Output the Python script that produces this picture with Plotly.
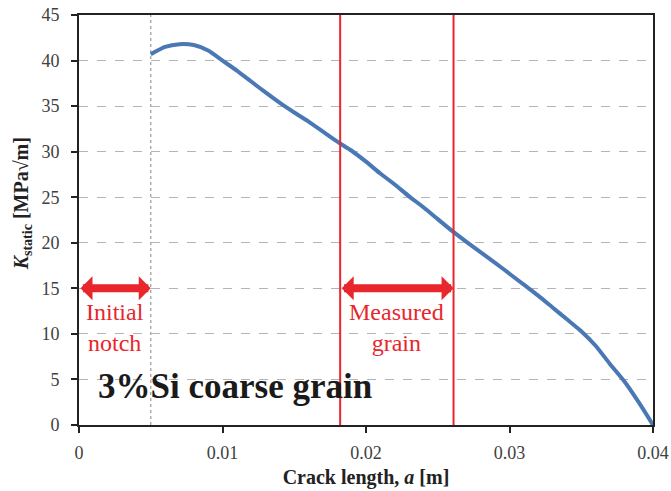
import plotly.graph_objects as go

# Data
crack_length = [0.005, 0.006, 0.007, 0.008, 0.009, 0.010, 0.011, 0.012, 0.013, 0.014,
                0.015, 0.016, 0.017, 0.018, 0.019, 0.020, 0.021, 0.022, 0.023, 0.024,
                0.025, 0.026, 0.027, 0.028, 0.029, 0.030, 0.031, 0.032, 0.033, 0.034,
                0.035, 0.036, 0.037, 0.038, 0.039, 0.040]
k_static = [40.7, 41.5, 41.8, 41.7, 41.1, 40.0, 38.9, 37.7, 36.5, 35.35,
            34.3, 33.3, 32.2, 31.1, 30.1, 28.9, 27.6, 26.4, 25.1, 23.9,
            22.6, 21.3, 20.1, 18.95, 17.8, 16.6, 15.4, 14.2, 12.9, 11.6,
            10.3, 8.7, 6.7, 4.8, 2.5, 0.0]

x_ticks = [0, 0.01, 0.02, 0.03, 0.04]
x_tick_labels = ["0", "0.01", "0.02", "0.03", "0.04"]
y_ticks = [0, 5, 10, 15, 20, 25, 30, 35, 40, 45]

notch_end = 0.005
grain_start = 0.0182
grain_end = 0.0261
arrow_level = 15
x_max = 0.04
y_max = 45

RED = "#e8262b"
BLUE = "#4a78b5"
SERIF = "'Liberation Serif', 'Times New Roman', Times, serif"

fig = go.Figure()
fig.add_trace(go.Scatter(x=crack_length, y=k_static, mode="lines",
                         line=dict(color=BLUE, width=4, shape="spline", smoothing=0.6),
                         showlegend=False, hoverinfo="skip"))

shapes = [
    dict(type="line", xref="x", yref="y", x0=notch_end, x1=notch_end, y0=0, y1=y_max,
         line=dict(color="#9a9a9a", width=1.2, dash="dot"), layer="below"),
    dict(type="line", xref="x", yref="y", x0=grain_start, x1=grain_start, y0=0, y1=y_max,
         line=dict(color=RED, width=2)),
    dict(type="line", xref="x", yref="y", x0=grain_end, x1=grain_end, y0=0, y1=y_max,
         line=dict(color=RED, width=2)),
]

annotations = []
for x0, x1 in [(0, notch_end), (grain_start, grain_end)]:
    annotations.append(dict(x=x1, y=arrow_level, ax=x0, ay=arrow_level,
                            xref="x", yref="y", axref="x", ayref="y",
                            text="", showarrow=True, arrowhead=1, startarrowhead=1,
                            arrowside="end+start", arrowwidth=8, arrowsize=0.5,
                            startarrowsize=0.5, arrowcolor=RED))

annotations += [
    dict(x=notch_end / 2, y=10.7, xref="x", yref="y", text="Initial<br>notch",
         showarrow=False, font=dict(family=SERIF, size=24, color=RED)),
    dict(x=(grain_start + grain_end) / 2, y=10.7, xref="x", yref="y",
         text="Measured<br>grain", showarrow=False,
         font=dict(family=SERIF, size=24, color=RED)),
    dict(x=0.0012, y=4.2, xref="x", yref="y", text="<b>3%Si coarse grain</b>",
         showarrow=False, xanchor="left",
         font=dict(family=SERIF, size=35, color="#1a1a1a")),
    dict(x=-0.098, y=0.54, xref="paper", yref="paper", textangle=-90,
         text="<b><i>K</i><sub>static</sub> [MPa√m]</b>", showarrow=False,
         xanchor="center", yanchor="middle",
         font=dict(family=SERIF, size=20, color="#222222")),
]

fig.update_layout(
    width=671, height=491,
    margin=dict(l=79, r=18, t=15, b=66),
    paper_bgcolor="white", plot_bgcolor="white",
    shapes=shapes, annotations=annotations,
    xaxis=dict(range=[0, x_max], tickvals=x_ticks, ticktext=x_tick_labels,
               automargin=False,
               showgrid=False, zeroline=False, showline=True, mirror=True,
               linecolor="#222222", linewidth=2, ticks="outside", ticklen=6,
               tickcolor="#222222", tickwidth=2, ticklabelstandoff=4,
               tickfont=dict(family=SERIF, size=18, color="#404040"),
               title=dict(text="<b>Crack length, <i>a</i> [m]</b>", standoff=8,
                          font=dict(family=SERIF, size=20, color="#222222"))),
    yaxis=dict(range=[0, y_max], tickvals=y_ticks, automargin=False,
               showgrid=True, gridcolor="#b4b4b4", griddash="dash", gridwidth=1,
               zeroline=False, showline=True, mirror=True,
               linecolor="#222222", linewidth=2, ticks="outside", ticklen=6,
               tickcolor="#222222", tickwidth=2, ticklabelstandoff=8,
               tickfont=dict(family=SERIF, size=18, color="#404040")),
)

fig.write_html("out.html")
